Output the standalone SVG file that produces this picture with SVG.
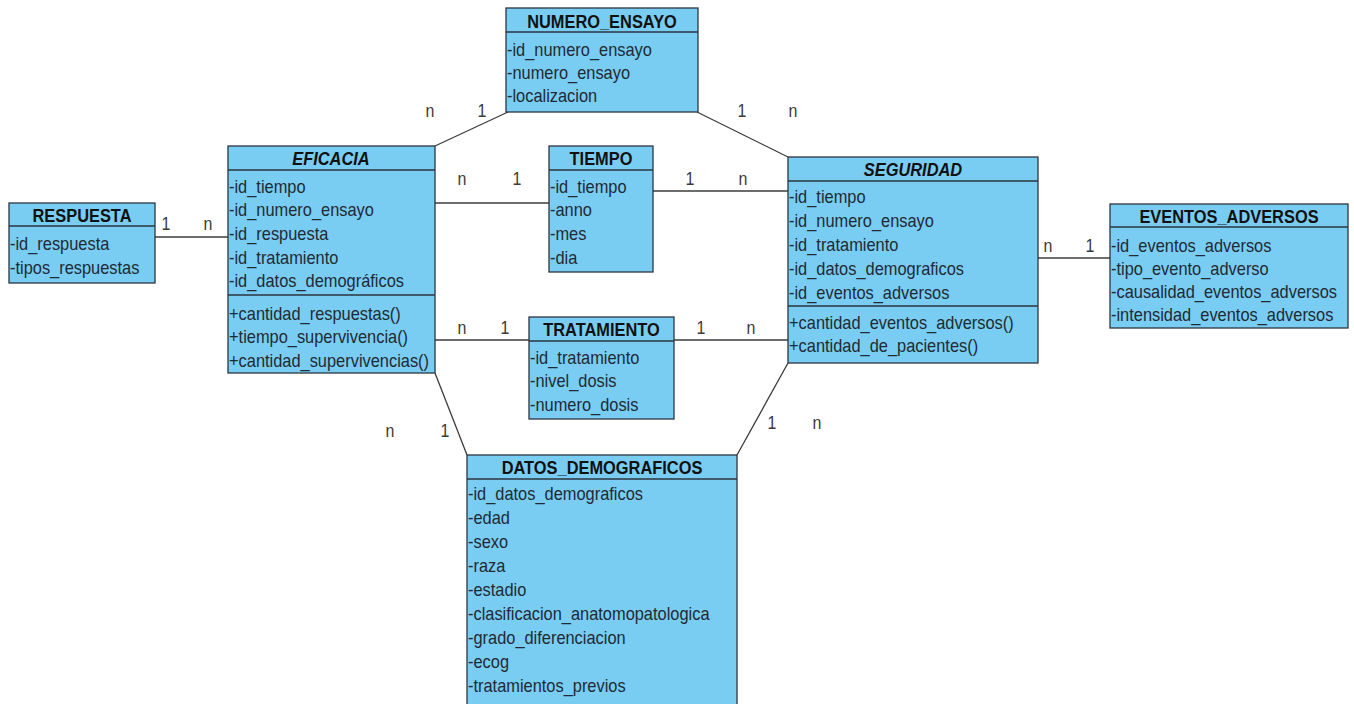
<svg xmlns="http://www.w3.org/2000/svg" width="1354" height="704" viewBox="0 0 1354 704">
<style>
.bg{fill:#ffffff}
.box{fill:#7acdf2;stroke:#2b3540;stroke-width:1.3}
.sep{stroke:#2b3540;stroke-width:1.3}
.t,.a,.c{transform-box:fill-box;transform-origin:center;transform:scale(1,1.12)}
.t{font-family:"Liberation Sans",Arial,sans-serif;font-size:16.4px;font-weight:bold;fill:#111;text-anchor:middle}
.ti{font-style:italic}
.a{font-family:"Liberation Sans",Arial,sans-serif;font-size:16.4px;fill:#1e2a35}
.c{font-family:"Liberation Sans",Arial,sans-serif;font-size:16px;fill:#3a3a3a;text-anchor:middle}
.ln{stroke:#3c3c3c;stroke-width:1.3;fill:none}
</style>
<rect class="bg" x="0" y="0" width="1354" height="704"/>

<g id="connectors">
<line class="ln" x1="155" y1="237" x2="228" y2="237"/>
<text class="c" x="166" y="229">1</text><text class="c" x="208" y="229">n</text>
<line class="ln" x1="435" y1="203" x2="549" y2="203"/>
<text class="c" x="462" y="184">n</text><text class="c" x="517" y="184">1</text>
<line class="ln" x1="653" y1="191" x2="788" y2="191"/>
<text class="c" x="690" y="184">1</text><text class="c" x="743" y="184">n</text>
<line class="ln" x1="435" y1="340" x2="529" y2="340"/>
<text class="c" x="462" y="333">n</text><text class="c" x="505" y="333">1</text>
<line class="ln" x1="674" y1="340" x2="788" y2="340"/>
<text class="c" x="701" y="333">1</text><text class="c" x="751" y="333">n</text>
<line class="ln" x1="1038" y1="258" x2="1110" y2="258"/>
<text class="c" x="1048" y="251">n</text><text class="c" x="1090" y="251">1</text>
<line class="ln" x1="435" y1="146" x2="508" y2="112"/>
<text class="c" x="430" y="116">n</text><text class="c" x="482" y="116">1</text>
<line class="ln" x1="697" y1="112" x2="788" y2="157"/>
<text class="c" x="742" y="116">1</text><text class="c" x="793" y="116">n</text>
<line class="ln" x1="435" y1="373" x2="467" y2="455"/>
<text class="c" x="390" y="436">n</text><text class="c" x="445" y="436">1</text>
<line class="ln" x1="788" y1="363" x2="737" y2="455"/>
<text class="c" x="772" y="428">1</text><text class="c" x="817" y="428">n</text>
</g>

<g id="numero_ensayo">
<rect class="box" x="506" y="8" width="192" height="104"/>
<line class="sep" x1="506" y1="32" x2="698" y2="32"/>
<text class="t" x="602" y="27">NUMERO_ENSAYO</text>
<text class="a" x="507" y="55">-id_numero_ensayo</text>
<text class="a" x="507" y="78">-numero_ensayo</text>
<text class="a" x="507" y="101">-localizacion</text>
</g>

<g id="eficacia">
<rect class="box" x="228" y="146" width="207" height="227"/>
<line class="sep" x1="228" y1="170" x2="435" y2="170"/>
<line class="sep" x1="228" y1="295" x2="435" y2="295"/>
<text class="t ti" x="331" y="164">EFICACIA</text>
<text class="a" x="229" y="192">-id_tiempo</text>
<text class="a" x="229" y="215.7">-id_numero_ensayo</text>
<text class="a" x="229" y="239.4">-id_respuesta</text>
<text class="a" x="229" y="263.1">-id_tratamiento</text>
<text class="a" x="229" y="286.8">-id_datos_demográficos</text>
<text class="a" x="229" y="319">+cantidad_respuestas()</text>
<text class="a" x="229" y="342.5">+tiempo_supervivencia()</text>
<text class="a" x="229" y="366">+cantidad_supervivencias()</text>
</g>

<g id="respuesta">
<rect class="box" x="9" y="203" width="146" height="80"/>
<line class="sep" x1="9" y1="226" x2="155" y2="226"/>
<text class="t" x="82" y="221">RESPUESTA</text>
<text class="a" x="10" y="249">-id_respuesta</text>
<text class="a" x="10" y="273">-tipos_respuestas</text>
</g>

<g id="tiempo">
<rect class="box" x="549" y="146" width="104" height="126"/>
<line class="sep" x1="549" y1="170" x2="653" y2="170"/>
<text class="t" x="601" y="164">TIEMPO</text>
<text class="a" x="550" y="192">-id_tiempo</text>
<text class="a" x="550" y="215.7">-anno</text>
<text class="a" x="550" y="239.4">-mes</text>
<text class="a" x="550" y="263.1">-dia</text>
</g>

<g id="tratamiento">
<rect class="box" x="529" y="317" width="145" height="102"/>
<line class="sep" x1="529" y1="341" x2="674" y2="341"/>
<text class="t" x="601.5" y="335">TRATAMIENTO</text>
<text class="a" x="530" y="363">-id_tratamiento</text>
<text class="a" x="530" y="386.5">-nivel_dosis</text>
<text class="a" x="530" y="410">-numero_dosis</text>
</g>

<g id="seguridad">
<rect class="box" x="788" y="157" width="250" height="206"/>
<line class="sep" x1="788" y1="181" x2="1038" y2="181"/>
<line class="sep" x1="788" y1="306" x2="1038" y2="306"/>
<text class="t ti" x="913" y="175">SEGURIDAD</text>
<text class="a" x="789" y="202">-id_tiempo</text>
<text class="a" x="789" y="226">-id_numero_ensayo</text>
<text class="a" x="789" y="250">-id_tratamiento</text>
<text class="a" x="789" y="274">-id_datos_demograficos</text>
<text class="a" x="789" y="298">-id_eventos_adversos</text>
<text class="a" x="789" y="328">+cantidad_eventos_adversos()</text>
<text class="a" x="789" y="351">+cantidad_de_pacientes()</text>
</g>

<g id="eventos_adversos">
<rect class="box" x="1110" y="204" width="238" height="124"/>
<line class="sep" x1="1110" y1="227" x2="1348" y2="227"/>
<text class="t" x="1229" y="222">EVENTOS_ADVERSOS</text>
<text class="a" x="1111" y="251">-id_eventos_adversos</text>
<text class="a" x="1111" y="274">-tipo_evento_adverso</text>
<text class="a" x="1111" y="297">-causalidad_eventos_adversos</text>
<text class="a" x="1111" y="320">-intensidad_eventos_adversos</text>
</g>

<g id="datos_demograficos">
<rect class="box" x="467" y="455" width="270" height="254"/>
<line class="sep" x1="467" y1="479" x2="737" y2="479"/>
<text class="t" x="602" y="473">DATOS_DEMOGRAFICOS</text>
<text class="a" x="468" y="499">-id_datos_demograficos</text>
<text class="a" x="468" y="523.1">-edad</text>
<text class="a" x="468" y="547.2">-sexo</text>
<text class="a" x="468" y="571.3">-raza</text>
<text class="a" x="468" y="595.4">-estadio</text>
<text class="a" x="468" y="619.5">-clasificacion_anatomopatologica</text>
<text class="a" x="468" y="643.6">-grado_diferenciacion</text>
<text class="a" x="468" y="667.7">-ecog</text>
<text class="a" x="468" y="691.8">-tratamientos_previos</text>
</g>
</svg>
